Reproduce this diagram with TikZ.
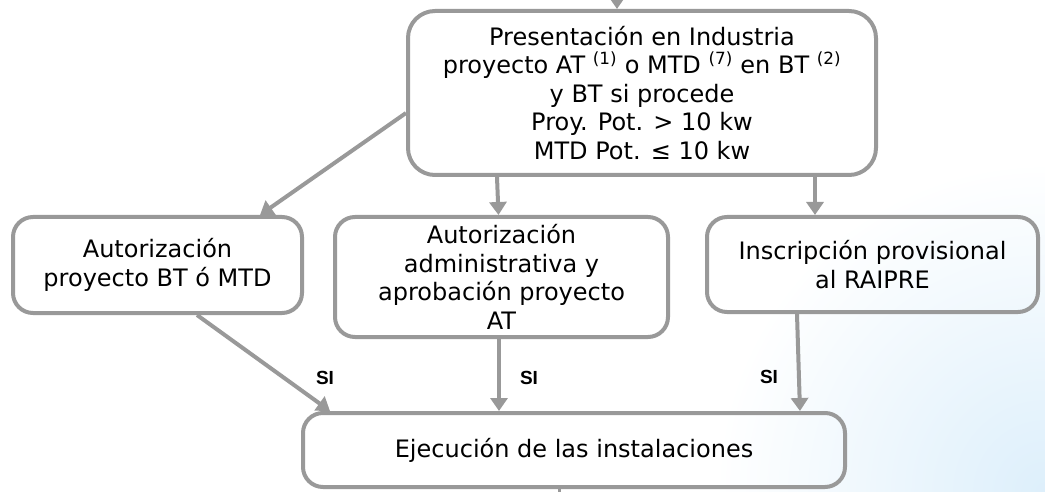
\documentclass[tikz,border=0pt]{standalone}
\usepackage{fontspec}
\setmainfont{DejaVu Sans}
\newfontfamily\labfont{Liberation Sans}[BoldFont={Liberation Sans Bold}]
\usetikzlibrary{arrows.meta,calc}
\definecolor{lc}{HTML}{999999}
\definecolor{bgblue}{HTML}{DDEFFB}
\begin{document}
\begin{tikzpicture}[x=1pt,y=-1pt,
  box/.style={draw=lc, line width=4pt, rounded corners=20pt, align=center,
    font=\fontsize{24}{28.5}\selectfont, inner sep=0pt},
  conn/.style={draw=lc, line width=4pt, -{Triangle[length=13pt,width=17pt]}},
  silab/.style={font={\labfont\fontsize{19}{21}\selectfont\bfseries}, inner sep=0pt}]
\useasboundingbox (0,0) rectangle (1045,492);
\begin{scope}
\clip (0,0) rectangle (1045,492);
\shade[inner color=bgblue, outer color=white] (1045,492) circle (330pt);
\end{scope}
\node[box, rounded corners=27pt, minimum width=468pt, minimum height=164pt] (top) at (642,93)
  {Presentación en Industria\\proyecto AT \textsuperscript{(1)} o MTD \textsuperscript{(7)} en BT \textsuperscript{(2)}\\y BT si procede\\Proy. Pot. > 10 kw\\MTD Pot. ≤ 10 kw};
\node[box, minimum width=289pt, minimum height=96pt] (left) at (157.5,265)
  {Autorización\\proyecto BT ó MTD};
\node[box, minimum width=333pt, minimum height=120pt] (mid) at (501.5,277)
  {Autorización\\administrativa y\\aprobación proyecto\\AT};
\node[box, minimum width=331pt, minimum height=95pt] (right) at (872.5,264.5)
  {Inscripción provisional\\al RAIPRE};
\node[box, minimum width=542pt, minimum height=74pt] (bot) at (574,450)
  {Ejecución de las instalaciones};
\coordinate (in) at (617,-12);
\coordinate (out) at (559,505);
\draw[conn] (in) -- ([xshift=-25pt]top.north);
\draw[conn] ([yshift=-20pt]top.west) -- ([xshift=102.5pt]left.north);
\draw[conn] ([xshift=-145pt]top.south) -- ([xshift=-3pt]mid.north);
\draw[conn] ([xshift=173pt]top.south) -- ([xshift=-57.5pt]right.north);
\draw[conn] ([xshift=39.5pt]left.south) -- ([xshift=-244pt]bot.north);
\draw[conn] ([xshift=-2.5pt]mid.south) -- ([xshift=-75pt]bot.north);
\draw[conn] ([xshift=-75.5pt]right.south) -- ([xshift=226pt]bot.north);
\draw[draw=lc, line width=3pt] ([xshift=-15pt]bot.south) -- (out);
\node[silab] (si1) at (325,378) {SI};
\node[silab] (si2) at (529,378) {SI};
\node[silab] (si3) at (769,377) {SI};
\end{tikzpicture}
\end{document}
